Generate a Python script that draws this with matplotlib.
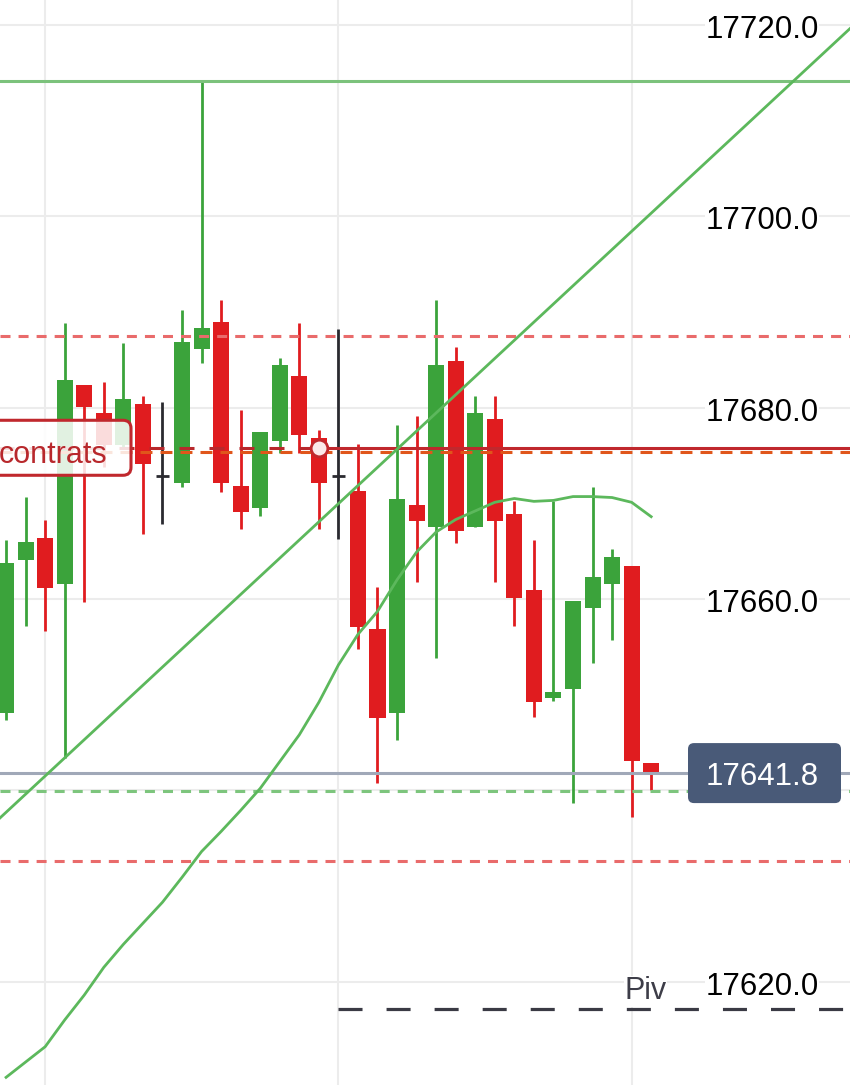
import matplotlib
matplotlib.use('Agg')
import matplotlib.pyplot as plt
import matplotlib.transforms as mtransforms
from matplotlib.patches import FancyBboxPatch

plt.rcParams['font.family'] = ['Liberation Sans', 'DejaVu Sans']
plt.rcParams['lines.scale_dashes'] = False

# bougies (une par barre)
opens  = [17648.1, 17664.1, 17666.4, 17661.6, 17682.4, 17679.4, 17676.1, 17680.4, 17672.8, 17672.1,
          17686.1, 17688.9, 17671.8, 17669.5, 17676.5, 17683.3, 17676.8, 17672.8, 17671.3, 17656.9,
          17648.1, 17669.8, 17667.5, 17684.9, 17667.5, 17678.8, 17668.9, 17660.9, 17649.6, 17650.6,
          17659.1, 17661.6, 17663.4, 17642.9]
highs  = [17666.2, 17670.7, 17668.2, 17688.8, 17682.4, 17682.7, 17686.8, 17681.2, 17680.6, 17690.2,
          17714.1, 17691.2, 17679.7, 17677.4, 17685.2, 17688.8, 17677.7, 17688.2, 17676.2, 17661.2,
          17678.2, 17679.1, 17691.2, 17686.3, 17681.2, 17681.2, 17670.2, 17666.2, 17670.2, 17659.8,
          17671.7, 17665.2, 17663.4, 17642.9]
lows   = [17647.3, 17657.2, 17656.7, 17643.4, 17659.7, 17673.8, 17675.9, 17666.8, 17667.8, 17671.7,
          17684.7, 17671.2, 17667.3, 17668.7, 17675.3, 17675.3, 17667.3, 17666.3, 17654.8, 17640.8,
          17645.3, 17661.8, 17653.8, 17665.8, 17667.5, 17661.8, 17657.2, 17647.7, 17649.3, 17638.7,
          17653.3, 17655.7, 17637.2, 17640.0]
closes = [17663.8, 17665.9, 17661.1, 17682.9, 17680.1, 17676.1, 17680.9, 17674.1, 17672.8, 17686.9,
          17688.3, 17672.1, 17669.1, 17677.4, 17684.4, 17677.1, 17672.1, 17672.8, 17657.1, 17647.6,
          17670.4, 17668.1, 17684.4, 17667.1, 17679.4, 17668.1, 17660.1, 17649.2, 17650.3, 17659.8,
          17662.3, 17664.4, 17643.1, 17641.8]
neutral = [8, 17]   # barres dessinées en noir

# moyenne mobile
ma_values = [17610.0, 17611.6, 17613.2, 17616.0, 17618.6, 17621.5, 17623.9, 17626.1, 17628.3, 17630.9,
             17633.6, 17635.7, 17637.9, 17640.2, 17643.0, 17645.8, 17649.2, 17653.1, 17656.3, 17658.7,
             17662.0, 17664.9, 17667.0, 17668.3, 17669.2, 17670.1, 17670.5, 17670.2, 17670.3, 17670.7,
             17670.7, 17670.6, 17670.1, 17668.6]

# ligne de tendance (deux points)
trend_x = [0, 40]
trend_y = [17637.7, 17713.6]

price_ticks = [17720.0, 17700.0, 17680.0, 17660.0, 17620.0]
grid_prices = [17620, 17640, 17660, 17680, 17700, 17720]
grid_bars = [2, 17, 32]

resist_top = 17714.1
red_levels = [17687.5, 17632.6]
green_level = 17639.9
entry_price = 17675.8
entry_bar = 16
stop_level = 17675.4
last_price = 17641.8
pivot = 17617.1
pivot_start = 17
position_label = 'contrats'

GREEN = '#3ba33b'
RED = '#e01c1f'
LINE_GREEN = '#5cb85c'

fig = plt.figure(figsize=(8.5, 10.85), dpi=100)
ax = fig.add_axes([0, 0, 1, 1])
ax.set_xlim(-0.31, 43.17)
ax.set_ylim(17609.2, 17722.6)
ax.axis('off')

for p in grid_prices:
    ax.axhline(p, color='#ececec', lw=1.5, zorder=0)
for b in grid_bars:
    ax.axvline(b, color='#ececec', lw=1.5, zorder=0)

# bougies
for i, (o, h, l, c) in enumerate(zip(opens, highs, lows, closes)):
    if i in neutral:
        ax.vlines(i, l, h, color='#2a2a30', lw=2, zorder=2)
        ax.hlines(o, i - 0.33, i + 0.33, color='#2a2a30', lw=2, zorder=2)
        continue
    col = GREEN if c >= o else RED
    ax.vlines(i, l, h, color=col, lw=2, zorder=2)
    ax.bar(i, abs(c - o), bottom=min(o, c), width=0.82, color=col, zorder=3)

# niveaux
ax.axhline(resist_top, color='#7cc27c', lw=2.2, zorder=4)
for lv in red_levels:
    ax.axhline(lv, color='#e96b6b', lw=2.2, dashes=(7.2, 5.8), zorder=4)
ax.axhline(green_level, color='#7dc57d', lw=2.2, dashes=(7.2, 5.8), zorder=4)
ax.axhline(last_price, color='#a0a8b8', lw=2.2, zorder=4)
ax.axhline(stop_level, color='#e0561b', lw=2.2, dashes=(8.6, 5.8), zorder=4)
ax.plot([-1, entry_bar], [entry_price, entry_price], color='#b8282c', lw=2.2,
        dashes=(10.8, 10.8), zorder=4)
ax.plot([entry_bar, 50], [entry_price, entry_price], color='#c0282d', lw=2.2, zorder=4)
ax.plot([pivot_start, 50], [pivot, pivot], color='#3a3a44', lw=2.3, dashes=(17.3, 17.3), zorder=4)

ax.axline((trend_x[0], trend_y[0]), (trend_x[1], trend_y[1]), color=LINE_GREEN, lw=2.0, zorder=4)
ax.plot(range(len(ma_values)), ma_values, color=LINE_GREEN, lw=2.0, zorder=4)

ax.plot(entry_bar, entry_price, 'o', ms=12, mfc='#fbe9e9', mec='#c0282d', mew=2, zorder=5)

# étiquettes de prix à droite
lab_tr = mtransforms.blended_transform_factory(ax.transAxes, ax.transData)
lab_tr = mtransforms.offset_copy(lab_tr, fig=fig, y=-13, units='dots')
for p in price_ticks:
    ax.text(0.8965, p, f'{p:.1f}', transform=lab_tr, ha='center', va='baseline',
            fontsize=22.5, color='black', zorder=6,
            bbox=dict(fc='white', ec='none', pad=0.5))

piv_tr = mtransforms.offset_copy(ax.transData, fig=fig, y=10, units='dots')
ax.text(32.7, pivot, 'Piv', transform=piv_tr, ha='center', va='baseline',
        fontsize=22, color='#3d3d48', zorder=6, bbox=dict(fc='white', ec='none', pad=0.5))

fig.canvas.draw()
px = mtransforms.IdentityTransform()

# prix courant
yc = ax.transData.transform((0, last_price))[1]
box = FancyBboxPatch((688, yc - 30), 153, 60, boxstyle='round,pad=0,rounding_size=6',
                     fc='#495a78', ec='none', transform=px, zorder=7)
fig.add_artist(box)
fig.text(762 / 850, (yc - 12) / 1085, f'{last_price:.1f}', ha='center', va='baseline',
         fontsize=22.5, color='white', zorder=8)

# boîte de position
ye = ax.transData.transform((0, entry_price))[1]
pbox = FancyBboxPatch((-20, ye - 27.5), 151, 55, boxstyle='round,pad=0,rounding_size=8',
                      fc=(1, 1, 1, 0.85), ec='#c0282d', lw=2.2, transform=px, zorder=7)
fig.add_artist(pbox)
fig.text(107 / 850, (ye - 15) / 1085, position_label, ha='right', va='baseline',
         fontsize=22, color='#b8282c', zorder=8)

fig.savefig('out.png', dpi=100)
